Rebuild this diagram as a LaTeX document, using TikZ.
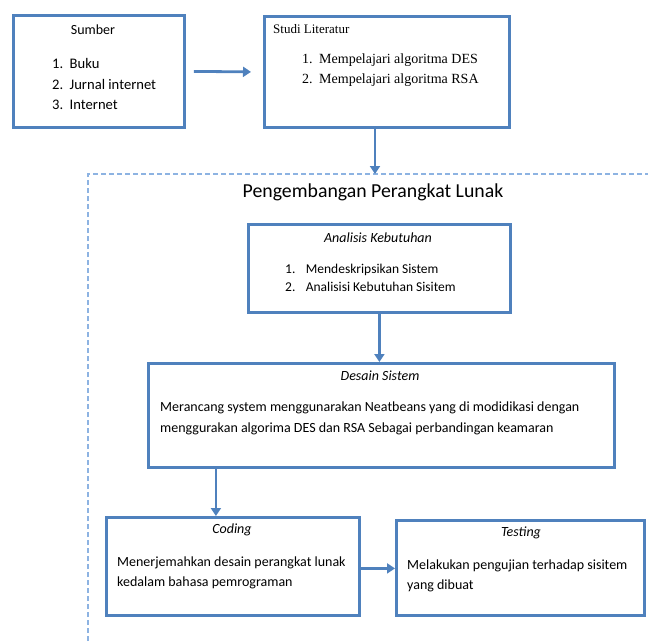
\documentclass[tikz,border=0pt]{standalone}
\usepackage{fontspec}
\setmainfont{Carlito}
\newfontfamily\timesrm{Liberation Serif}
\usetikzlibrary{arrows.meta,positioning}
\definecolor{boxblue}{RGB}{79,129,189}
\definecolor{frameblue}{RGB}{141,179,226}
\begin{document}
\begin{tikzpicture}[x=1pt, y=-1pt,
    stagebox/.style={draw=boxblue, line width=2.8pt, anchor=north west, inner sep=0pt},
    arr/.style={draw=boxblue, line width=2.8pt, -{Triangle[length=8pt, width=10pt]}},
    txt/.style={inner sep=0pt, font=\fontsize{14}{20}\selectfont},
    ital/.style={inner sep=0pt, font=\fontsize{14}{20}\selectfont\itshape},
    frameline/.style={draw=frameblue, line width=1.6pt, dash pattern=on 5pt off 3pt}]
    \useasboundingbox (0,0) rectangle (648,641);
    % Stage boxes
    \node[stagebox, minimum width=171pt, minimum height=112pt] (sumber) at (12,14) {};
    \node[stagebox, minimum width=245pt, minimum height=111pt] (studi) at (263,15) {};
    \node[stagebox, minimum width=262pt, minimum height=88pt] (analisis) at (247,223) {};
    \node[stagebox, minimum width=466pt, minimum height=104pt] (desain) at (147,362) {};
    \node[stagebox, minimum width=253pt, minimum height=98pt] (coding) at (105,516) {};
    \node[stagebox, minimum width=248pt, minimum height=95pt] (testing) at (395,519) {};
    % Development frame
    \coordinate (frametop) at (375,174);
    \draw[frameline] (88,641) -- (88,174) -- (648,174);
    \node[inner sep=0pt, font=\fontsize{19.8}{22}\selectfont] (frametitle) at (373,192) {Pengembangan Perangkat Lunak};
    % Texts
    \node[txt] (sumbertitle) at (93,30) {Sumber};
    \node[anchor=west, inner sep=0pt, font=\fontsize{14.6}{20.5}\selectfont] (sumberlist) at (52,85) {\begin{tabular}{@{}l@{\hspace{6.4pt}}l@{}}1. & Buku\\ 2. & Jurnal internet\\ 3. & Internet\end{tabular}};
    \node[inner sep=0pt, anchor=west, font=\fontsize{13}{20}\timesrm] (studititle) at (273,29) {Studi Literatur};
    \node[inner sep=0pt, anchor=west, font=\fontsize{14}{20}\timesrm] (studilist) at (302,69) {\begin{tabular}{@{}l@{\hspace{6.5pt}}l@{}}1. & Mempelajari algoritma DES\\ 2. & Mempelajari algoritma RSA\end{tabular}};
    \node[ital] (analisistitle) at (378,238) {Analisis Kebutuhan};
    \node[anchor=west, inner sep=0pt, font=\fontsize{13.5}{18}\selectfont] (analisislist) at (285,279) {\begin{tabular}{@{}l@{\hspace{10.4pt}}l@{}}1. & Mendeskripsikan Sistem\\ 2. & Analisisi Kebutuhan Sisitem\end{tabular}};
    \node[ital] (desaintitle) at (380,376) {Desain Sistem};
    \node[txt, anchor=west, align=left, font=\fontsize{14}{21}\selectfont] (desaintext) at (160,418.5) {Merancang system menggunarakan Neatbeans yang di modidikasi dengan\\ menggurakan algorima DES dan RSA Sebagai perbandingan keamaran};
    \node[ital] (codingtitle) at (232,530) {Coding};
    \node[txt, anchor=west, align=left] (codingtext) at (117,572.5) {Menerjemahkan desain perangkat lunak\\ kedalam bahasa pemrograman};
    \node[ital] (testingtitle) at (521,533) {Testing};
    \node[txt, anchor=west, align=left] (testingtext) at (407,575.5) {Melakukan pengujian terhadap sisitem\\ yang dibuat};
    % Connectors
    \draw[arr] ([xshift=8pt]sumber.east) -- ([xshift=-12pt]studi.west);
    \draw[arr] (studi.south -| frametop) -- (frametop);
    \draw[arr] (analisis.south) -- (analisis.south |- desain.north);
    \draw[arr] ([xshift=-17pt]coding.north |- desain.south) -- ([xshift=-17pt]coding.north);
    \draw[arr] ([yshift=-2pt]coding.east) -- ([yshift=-2pt]coding.east -| testing.west);
\end{tikzpicture}
\end{document}
